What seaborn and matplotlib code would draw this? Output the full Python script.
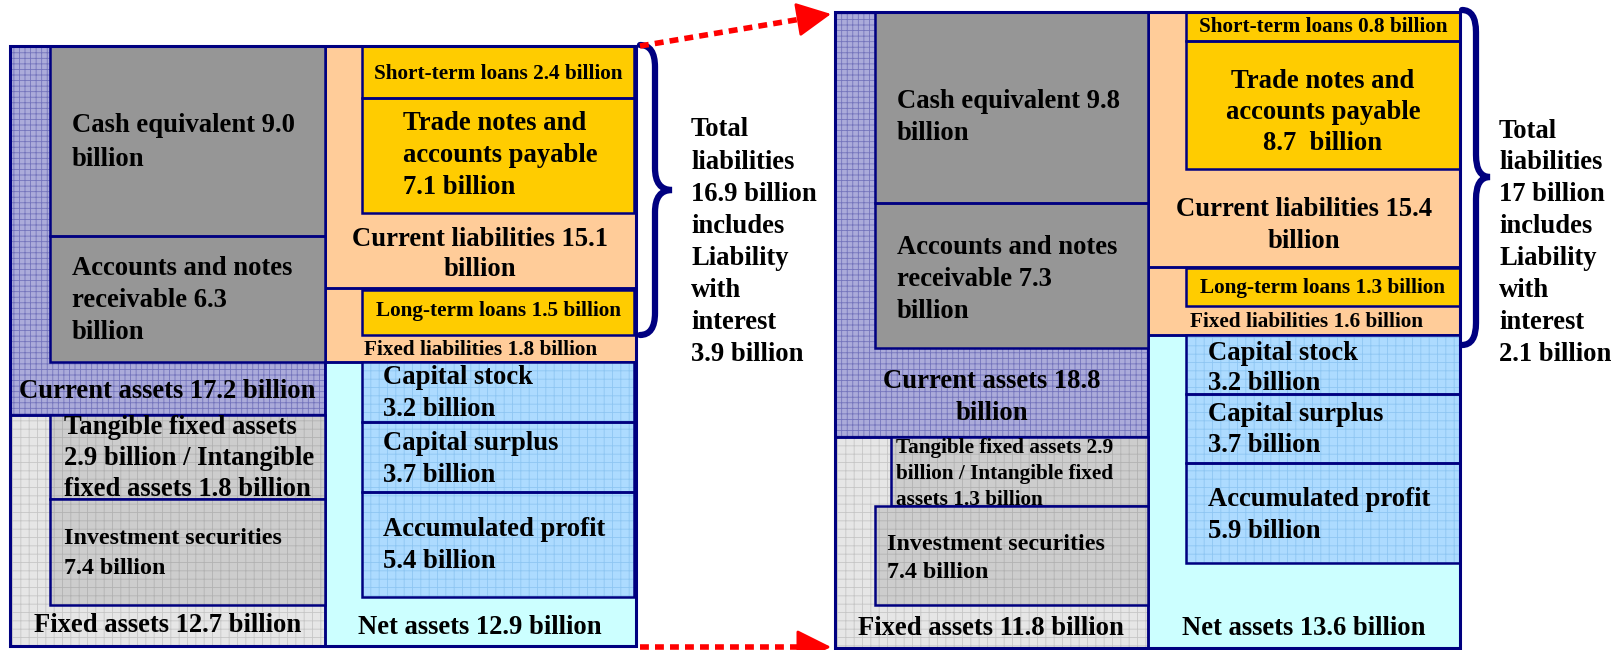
import matplotlib
matplotlib.use("Agg")
import matplotlib.pyplot as plt
import seaborn as sns
from matplotlib.patches import Rectangle, PathPatch
from matplotlib.path import Path

# ---------------- data (billion) : [before, after] ----------------
cash = [9.0, 9.8]
receivables = [6.3, 7.3]
current_assets = [17.2, 18.8]
tangible_fixed = [2.9, 2.9]
intangible_fixed = [1.8, 1.3]
investment_sec = [7.4, 7.4]
fixed_assets = [12.7, 11.8]
short_loans = [2.4, 0.8]
trade_payable = [7.1, 8.7]
current_liab = [15.1, 15.4]
long_loans = [1.5, 1.3]
fixed_liab = [1.8, 1.6]
capital_stock = [3.2, 3.2]
capital_surplus = [3.7, 3.7]
accum_profit = [5.4, 5.9]
net_assets = [12.9, 13.6]
total_liab = ["16.9", "17"]
interest_liab = [3.9, 2.1]

sns.set_theme(style="white")
plt.rcParams["font.family"] = ["Liberation Serif", "DejaVu Serif"]
plt.rcParams["font.weight"] = "bold"
plt.rcParams["hatch.linewidth"] = 0.6

NAVY = "#000080"
BIG, SMALL, MID = 19.2, 15.3, 17.3
fig = plt.figure(figsize=(16.13, 6.50), dpi=100)
ax = fig.add_axes([0, 0, 1, 1])
ax.set_xlim(0, 1613)
ax.set_ylim(650, 0)
ax.axis("off")


def box(x0, y0, x1, y1, fc, hatch=None, hc=None, edge=True, lw=1.8, z=1):
    if hatch:
        ax.add_patch(Rectangle((x0, y0), x1 - x0, y1 - y0, facecolor=fc,
                               edgecolor=hc, hatch=hatch, linewidth=0, zorder=z))
    else:
        ax.add_patch(Rectangle((x0, y0), x1 - x0, y1 - y0, facecolor=fc,
                               edgecolor="none", zorder=z))
    if edge:
        ax.add_patch(Rectangle((x0, y0), x1 - x0, y1 - y0, fill=False,
                               edgecolor=NAVY, linewidth=lw, zorder=z + 0.5))
    return Rectangle((x0, y0), x1 - x0, y1 - y0, transform=ax.transData)


def lines(x, y0, dy, text, ha="left", size=BIG, clip=None):
    for k, s in enumerate(text.split("\n")):
        t = ax.text(x, y0 + k * dy, s, ha=ha, va="center", fontsize=size,
                    fontweight="bold", color="black", zorder=10)
        if clip is not None:
            t.set_clip_path(clip)


def brace(x0, x1, x2, yt, ym, yb, r=22):
    verts = [(x0, yt), (x1, yt), (x1, yt + r), (x1, ym - r), (x1, ym), (x2, ym),
             (x1, ym), (x1, ym + r), (x1, yb - r), (x1, yb), (x0, yb)]
    codes = [Path.MOVETO, Path.CURVE3, Path.CURVE3, Path.LINETO, Path.CURVE3, Path.CURVE3,
             Path.CURVE3, Path.CURVE3, Path.LINETO, Path.CURVE3, Path.CURVE3]
    ax.add_patch(PathPatch(Path(verts, codes), fill=False, edgecolor=NAVY,
                           linewidth=4.5, capstyle="round", zorder=5))


CA_FC, CA_HC = "#ABABDA", "#7474BC"
FA_FC, FA_HC = "#E6E6E6", "#C6C6C6"
FB_FC, FB_HC = "#CDCDCD", "#B2B2B2"
CP_FC, CP_HC = "#ADDBFF", "#8EC6F2"
PEACH, YEL, GREY, CYAN = "#FFCC99", "#FFCC00", "#969696", "#CCFFFF"

layouts = [
    dict(x0=10, xa=50, xm=325, xl=362, x1=636, xr=634, top=46, bot=646,
         cash_b=236, ar_b=362, ca_b=415, tan_x=50, tan_b=499, inv_x=50, inv_b=605,
         st_b=98, tr_b=213, cl_b=288, ll_t=290, ll_b=335, fl_b=362,
         cs_b=422, su_b=492, ap_b=597),
    dict(x0=835, xa=875, xm=1148, xl=1186, x1=1460, xr=1460, top=12, bot=648,
         cash_b=203, ar_b=348, ca_b=437, tan_x=891, tan_b=506, inv_x=875, inv_b=605,
         st_b=41, tr_b=169, cl_b=267, ll_t=268, ll_b=306, fl_b=335,
         cs_b=394, su_b=463, ap_b=563),
]

clips = []
for i, L in enumerate(layouts):
    box(L["x0"], L["top"], L["xm"], L["ca_b"], CA_FC, "+++", CA_HC, z=1)
    box(L["x0"], L["ca_b"], L["xm"], L["bot"], FA_FC, "++", FA_HC, z=1)
    box(L["xm"], L["top"], L["x1"], L["cl_b"], PEACH, z=1)
    box(L["xm"], L["cl_b"], L["x1"], L["fl_b"], PEACH, z=1)
    box(L["xm"], L["fl_b"], L["x1"], L["bot"], CYAN, z=1)
    box(L["xa"], L["top"], L["xm"], L["cash_b"], GREY, z=2)
    box(L["xa"], L["cash_b"], L["xm"], L["ar_b"], GREY, z=2)
    tclip = box(L["tan_x"], L["ca_b"], L["xm"], L["tan_b"], FB_FC, "++", FB_HC, z=2)
    box(L["inv_x"], L["tan_b"], L["xm"], L["inv_b"], FB_FC, "++", FB_HC, z=3)
    box(L["xl"], L["top"], L["xr"], L["st_b"], YEL, z=2)
    box(L["xl"], L["st_b"], L["xr"], L["tr_b"], YEL, z=2)
    box(L["xl"], L["ll_t"], L["xr"], L["ll_b"], YEL, z=2)
    box(L["xl"], L["fl_b"], L["xr"], L["cs_b"], CP_FC, "++", CP_HC, z=2)
    box(L["xl"], L["cs_b"], L["xr"], L["su_b"], CP_FC, "++", CP_HC, z=2)
    box(L["xl"], L["su_b"], L["xr"], L["ap_b"], CP_FC, "++", CP_HC, z=2)
    clips.append(tclip)
    ax.add_patch(Rectangle((L["x0"], L["top"]), L["x1"] - L["x0"], L["bot"] - L["top"],
                           fill=False, edgecolor=NAVY, linewidth=2.2, zorder=6))

# ---------------- texts: left panel ----------------
lines(72, 125.5, 34, f"Cash equivalent {cash[0]:.1f}\nbillion")
lines(72, 268.5, 32, f"Accounts and notes\nreceivable {receivables[0]:.1f}\nbillion")
lines(167.5, 391, 0, f"Current assets {current_assets[0]:.1f} billion", ha="center")
lines(64, 427, 31.5, f"Tangible fixed assets\n{tangible_fixed[0]:.1f} billion / Intangible\n"
      f"fixed assets {intangible_fixed[0]:.1f} billion", clip=clips[0])
lines(64, 539, 29, f"Investment securities\n{investment_sec[0]:.1f} billion", size=MID)
lines(168, 626, 0, f"Fixed assets {fixed_assets[0]:.1f} billion", ha="center")
lines(498, 74, 0, f"Short-term loans {short_loans[0]:.1f} billion", ha="center", size=SMALL)
lines(403, 123.5, 32, f"Trade notes and\naccounts payable\n{trade_payable[0]:.1f} billion")
lines(480, 239, 31, f"Current liabilities {current_liab[0]:.1f}\nbillion", ha="center")
lines(498.5, 311, 0, f"Long-term loans {long_loans[0]:.1f} billion", ha="center", size=SMALL)
lines(481, 350, 0, f"Fixed liabilities {fixed_liab[0]:.1f} billion", ha="center", size=SMALL)
lines(383, 377.5, 32, f"Capital stock\n{capital_stock[0]:.1f} billion")
lines(383, 444, 32, f"Capital surplus\n{capital_surplus[0]:.1f} billion")
lines(383, 530, 32, f"Accumulated profit\n{accum_profit[0]:.1f} billion")
lines(479.5, 627.5, 0, f"Net assets {net_assets[0]:.1f} billion", ha="center")
lines(691, 130, 32.1, f"Total\nliabilities\n{total_liab[0]} billion\nincludes\nLiability\nwith\n"
      f"interest\n{interest_liab[0]:.1f} billion")

# ---------------- texts: right panel ----------------
lines(897, 101, 33, f"Cash equivalent {cash[1]:.1f}\nbillion")
lines(897, 247, 32, f"Accounts and notes\nreceivable {receivables[1]:.1f}\nbillion")
lines(992, 381, 32, f"Current assets {current_assets[1]:.1f}\nbillion", ha="center")
lines(896, 448, 26, f"Tangible fixed assets {tangible_fixed[1]:.1f}\nbillion / Intangible fixed\n"
      f"assets {intangible_fixed[1]:.1f} billion", size=SMALL, clip=clips[1])
lines(887, 544, 29, f"Investment securities\n{investment_sec[1]:.1f} billion", size=MID)
lines(990.5, 628.5, 0, f"Fixed assets {fixed_assets[1]:.1f} billion", ha="center")
lines(1323, 27, 0, f"Short-term loans {short_loans[1]:.1f} billion", ha="center", size=SMALL)
lines(1323, 81, 31.5, f"Trade notes and\naccounts payable\n{trade_payable[1]:.1f}  billion", ha="center")
lines(1304, 210, 32, f"Current liabilities {current_liab[1]:.1f}\nbillion", ha="center")
lines(1323, 288.5, 0, f"Long-term loans {long_loans[1]:.1f} billion", ha="center", size=SMALL)
lines(1306, 322, 0, f"Fixed liabilities {fixed_liab[1]:.1f} billion", ha="center", size=SMALL)
lines(1208, 353, 31, f"Capital stock\n{capital_stock[1]:.1f} billion")
lines(1208, 414.5, 31, f"Capital surplus\n{capital_surplus[1]:.1f} billion")
lines(1208, 499, 32, f"Accumulated profit\n{accum_profit[1]:.1f} billion")
lines(1304, 628.5, 0, f"Net assets {net_assets[1]:.1f} billion", ha="center")
lines(1499, 131, 31.9, f"Total\nliabilities\n{total_liab[1]} billion\nincludes\nLiability\nwith\n"
      f"interest\n{interest_liab[1]:.1f} billion")

# braces
brace(640, 655, 672, 45, 190, 335)
brace(1462, 1476, 1490, 10, 177, 345)

# red dotted arrows
RED = "#FF0000"
for (xs, ys), (xe, ye) in [((640, 46), (831, 14)), ((640, 647), (831, 647))]:
    fx = xs + (xe - xs) * 0.88
    fy = ys + (ye - ys) * 0.88
    ax.plot([xs, fx], [ys, fy], color=RED, lw=4, linestyle=(0, (1.6, 1.1)),
            solid_capstyle="butt", dash_capstyle="butt", zorder=7)
    ax.annotate("", xy=(xe, ye), xytext=(fx - (xe - xs) * 0.02, fy - (ye - ys) * 0.02),
                arrowprops=dict(arrowstyle="-|>,head_length=1.2,head_width=0.6",
                                color=RED, lw=2, mutation_scale=18, shrinkA=0, shrinkB=0),
                zorder=7)

fig.savefig("out.png", dpi=100)
